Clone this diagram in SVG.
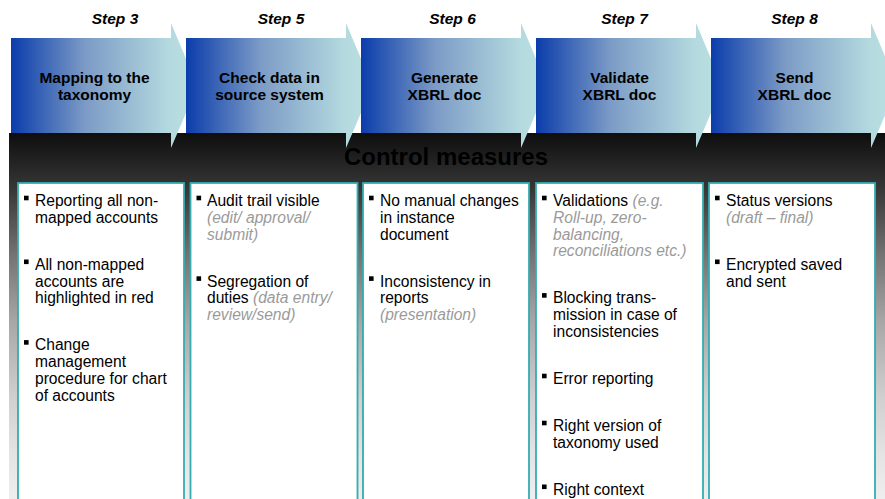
<svg xmlns="http://www.w3.org/2000/svg" width="885" height="499" viewBox="0 0 885 499">
  <defs>
    <linearGradient id="chevronFill" x1="0" y1="0" x2="1" y2="0">
      <stop offset="0" stop-color="#0b3dab"/>
      <stop offset="0.4" stop-color="#7c9bc6"/>
      <stop offset="0.85" stop-color="#b4dadf"/>
      <stop offset="1" stop-color="#bae0e3"/>
    </linearGradient>
    <linearGradient id="bandFill" x1="0" y1="133" x2="0" y2="499" gradientUnits="userSpaceOnUse">
      <stop offset="0" stop-color="#0e0e0e"/>
      <stop offset="0.15" stop-color="#363636"/>
      <stop offset="0.33" stop-color="#727272"/>
      <stop offset="0.52" stop-color="#a8a8a8"/>
      <stop offset="0.72" stop-color="#cfcfcf"/>
      <stop offset="0.88" stop-color="#e4e4e4"/>
      <stop offset="1" stop-color="#eeeeee"/>
    </linearGradient>
    <polygon id="chevron" points="0,38 160,38 160,23 186.5,86 160,148 160,133 0,133"/>
  </defs>
  <style>
    .chev { fill: url(#chevronFill); }
    .step { font-family: "Liberation Sans", Arial, sans-serif; font-size: 15.5px; font-weight: bold; font-style: italic; fill: #000; text-anchor: middle; }
    .title { font-family: "Liberation Sans", Arial, sans-serif; font-size: 15.5px; font-weight: bold; fill: #000; text-anchor: middle; }
    .heading { font-family: "Liberation Sans", Arial, sans-serif; font-size: 24px; font-weight: bold; fill: #000; text-anchor: middle; }
    .box { fill: #ffffff; stroke: #33adb0; stroke-width: 1.8; }
    .body { font-family: "Liberation Sans", Arial, sans-serif; font-size: 15.6px; fill: #000; }
    .note { fill: #9a9a9a; font-style: italic; }
    .dot { fill: #000; }
  </style>

  <!-- dark backdrop behind the control measures -->
  <rect id="band" x="9" y="133" width="876" height="366" fill="url(#bandFill)"/>

  <!-- step chevrons -->
  <g id="step3">
    <use href="#chevron" class="chev" x="11"/>
    <text class="step" x="115" y="24">Step 3</text>
    <text class="title" x="94.5" y="82.5">Mapping to the<tspan x="94.5" dy="17.5">taxonomy</tspan></text>
  </g>
  <g id="step5">
    <use href="#chevron" class="chev" x="186"/>
    <text class="step" x="281" y="24">Step 5</text>
    <text class="title" x="269.5" y="82.5">Check data in<tspan x="269.5" dy="17.5">source system</tspan></text>
  </g>
  <g id="step6">
    <use href="#chevron" class="chev" x="361"/>
    <text class="step" x="452.5" y="24">Step 6</text>
    <text class="title" x="444.5" y="82.5">Generate<tspan x="444.5" dy="17.5">XBRL doc</tspan></text>
  </g>
  <g id="step7">
    <use href="#chevron" class="chev" x="536"/>
    <text class="step" x="624.5" y="24">Step 7</text>
    <text class="title" x="619.5" y="82.5">Validate<tspan x="619.5" dy="17.5">XBRL doc</tspan></text>
  </g>
  <g id="step8">
    <use href="#chevron" class="chev" x="711"/>
    <text class="step" x="794.5" y="24">Step 8</text>
    <text class="title" x="794.5" y="82.5">Send<tspan x="794.5" dy="17.5">XBRL doc</tspan></text>
  </g>

  <text id="heading" class="heading" x="446" y="165">Control measures</text>

  <!-- measure columns -->
  <g id="measures3">
    <rect class="box" x="18" y="183" width="166" height="330"/>
    <rect class="dot" x="24" y="195.7" width="4.6" height="4.6"/>
    <text class="body" x="35" y="206">Reporting all non-<tspan x="35" dy="16.8">mapped accounts</tspan></text>
    <rect class="dot" x="24" y="259.5" width="4.6" height="4.6"/>
    <text class="body" x="35" y="269.8">All non-mapped<tspan x="35" dy="16.8">accounts are</tspan><tspan x="35" dy="16.8">highlighted in red</tspan></text>
    <rect class="dot" x="24" y="340.1" width="4.6" height="4.6"/>
    <text class="body" x="35" y="350.4">Change<tspan x="35" dy="16.8">management</tspan><tspan x="35" dy="16.8">procedure for chart</tspan><tspan x="35" dy="16.8">of accounts</tspan></text>
  </g>

  <g id="measures5">
    <rect class="box" x="190.5" y="183" width="167" height="330"/>
    <rect class="dot" x="196.5" y="195.7" width="4.6" height="4.6"/>
    <text class="body" x="207" y="206">Audit trail visible<tspan class="note" x="207" dy="16.8">(edit/ approval/</tspan><tspan class="note" x="207" dy="16.8">submit)</tspan></text>
    <rect class="dot" x="196.5" y="276.3" width="4.6" height="4.6"/>
    <text class="body" x="207" y="286.6">Segregation of<tspan x="207" dy="16.8">duties </tspan><tspan class="note">(data entry/</tspan><tspan class="note" x="207" dy="16.8">review/send)</tspan></text>
  </g>

  <g id="measures6">
    <rect class="box" x="363" y="183" width="166" height="330"/>
    <rect class="dot" x="369" y="195.7" width="4.6" height="4.6"/>
    <text class="body" x="380" y="206">No manual changes<tspan x="380" dy="16.8">in instance</tspan><tspan x="380" dy="16.8">document</tspan></text>
    <rect class="dot" x="369" y="276.3" width="4.6" height="4.6"/>
    <text class="body" x="380" y="286.6">Inconsistency in<tspan x="380" dy="16.8">reports</tspan><tspan class="note" x="380" dy="16.8">(presentation)</tspan></text>
  </g>

  <g id="measures7">
    <rect class="box" x="536" y="183" width="167" height="330"/>
    <rect class="dot" x="542" y="195.7" width="4.6" height="4.6"/>
    <text class="body" x="553" y="206">Validations <tspan class="note">(e.g.</tspan><tspan class="note" x="553" dy="16.8">Roll-up, zero-</tspan><tspan class="note" x="553" dy="16.8">balancing,</tspan><tspan class="note" x="553" dy="16.8">reconciliations etc.)</tspan></text>
    <rect class="dot" x="542" y="293.1" width="4.6" height="4.6"/>
    <text class="body" x="553" y="303.4">Blocking trans-<tspan x="553" dy="16.8">mission in case of</tspan><tspan x="553" dy="16.8">inconsistencies</tspan></text>
    <rect class="dot" x="542" y="373.7" width="4.6" height="4.6"/>
    <text class="body" x="553" y="384">Error reporting</text>
    <rect class="dot" x="542" y="420.7" width="4.6" height="4.6"/>
    <text class="body" x="553" y="431">Right version of<tspan x="553" dy="16.8">taxonomy used</tspan></text>
    <rect class="dot" x="542" y="484.5" width="4.6" height="4.6"/>
    <text class="body" x="553" y="494.8">Right context</text>
  </g>

  <g id="measures8">
    <rect class="box" x="709" y="183" width="166" height="330"/>
    <rect class="dot" x="715" y="195.7" width="4.6" height="4.6"/>
    <text class="body" x="726" y="206">Status versions<tspan class="note" x="726" dy="16.8">(draft – final)</tspan></text>
    <rect class="dot" x="715" y="259.5" width="4.6" height="4.6"/>
    <text class="body" x="726" y="269.8">Encrypted saved<tspan x="726" dy="16.8">and sent</tspan></text>
  </g>
</svg>
